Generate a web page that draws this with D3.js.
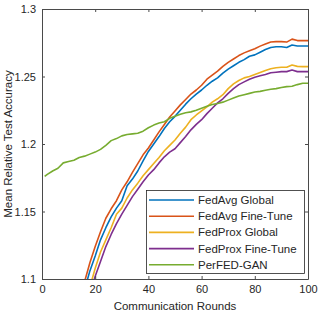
<html>
<head>
<script src="https://d3js.org/d3.v7.min.js"></script>
<style>
  body { margin: 0; background: #fff; }
  text { font-family: "Liberation Sans", Arial, sans-serif; fill: #262626; }
</style>
</head>
<body>
<svg id="chart" width="319" height="313"></svg>
<script>
var rounds = [1, 2, 4, 6, 8, 10, 12, 14, 16, 18, 20, 22, 24, 26, 28, 30, 32, 34, 36, 38, 40,
  42, 44, 46, 48, 50, 52, 54, 56, 58, 60, 62, 64, 66, 68, 70, 72, 74, 76, 78, 80,
  82, 84, 86, 88, 90, 92, 94, 96, 98, 100];

var fedAvgGlobal = [0.985, 0.995, 1.008, 1.022, 1.036, 1.049, 1.062, 1.076, 1.092, 1.106, 1.117,
  1.129, 1.138, 1.146, 1.1525, 1.158, 1.169, 1.174, 1.180, 1.1875, 1.1945,
  1.200, 1.2055, 1.2115, 1.2165, 1.2205, 1.225, 1.2295, 1.2335, 1.237, 1.240,
  1.2435, 1.2465, 1.249, 1.2525, 1.2555, 1.258, 1.2605, 1.2625, 1.265, 1.266,
  1.268, 1.270, 1.2715, 1.272, 1.272, 1.2715, 1.2733, 1.2726, 1.2726, 1.2726];

var fedAvgFine = [0.99, 1.00, 1.015, 1.028, 1.042, 1.055, 1.068, 1.084, 1.098, 1.112, 1.124,
  1.135, 1.145, 1.152, 1.158, 1.166, 1.172, 1.179, 1.1855, 1.192, 1.197,
  1.203, 1.209, 1.2145, 1.220, 1.2245, 1.229, 1.233, 1.237, 1.240, 1.2435,
  1.248, 1.251, 1.254, 1.2575, 1.2605, 1.263, 1.2655, 1.2675, 1.269, 1.2705,
  1.2725, 1.274, 1.2755, 1.2758, 1.2758, 1.2755, 1.2777, 1.2766, 1.2766, 1.2766];

var fedProxGlobal = [0.98, 0.99, 1.003, 1.016, 1.029, 1.042, 1.055, 1.068, 1.080, 1.094, 1.108,
  1.120, 1.129, 1.138, 1.148, 1.1525, 1.160, 1.166, 1.171, 1.1765, 1.181,
  1.1855, 1.190, 1.195, 1.199, 1.203, 1.208, 1.2125, 1.218, 1.2215, 1.2245,
  1.2275, 1.231, 1.2335, 1.2365, 1.241, 1.2445, 1.247, 1.249, 1.250, 1.2515,
  1.253, 1.2545, 1.2558, 1.2565, 1.2568, 1.2568, 1.2585, 1.2575, 1.2573, 1.2573];

var fedProxFine = [0.975, 0.985, 0.998, 1.011, 1.024, 1.037, 1.050, 1.063, 1.076, 1.089, 1.102,
  1.113, 1.124, 1.133, 1.141, 1.148, 1.1545, 1.161, 1.1665, 1.172, 1.177,
  1.181, 1.186, 1.1905, 1.194, 1.1965, 1.201, 1.2055, 1.2105, 1.2145, 1.218,
  1.2225, 1.2265, 1.2305, 1.2335, 1.2375, 1.241, 1.244, 1.246, 1.248, 1.2495,
  1.2505, 1.2515, 1.2528, 1.2532, 1.2536, 1.2536, 1.2548, 1.2536, 1.2536, 1.2536];

var perFedGan = [1.176, 1.1775, 1.180, 1.182, 1.186, 1.187, 1.188, 1.190, 1.191, 1.1925, 1.194,
  1.196, 1.199, 1.2025, 1.204, 1.206, 1.207, 1.2075, 1.208, 1.2095, 1.212,
  1.214, 1.2155, 1.2165, 1.219, 1.2205, 1.222, 1.2232, 1.2238, 1.225, 1.2265,
  1.228, 1.2292, 1.230, 1.231, 1.2325, 1.234, 1.2355, 1.2365, 1.2375, 1.2385,
  1.239, 1.2398, 1.2405, 1.241, 1.2418, 1.2425, 1.2428, 1.244, 1.245, 1.245];

var seriesNames = ["FedAvg Global", "FedAvg Fine-Tune", "FedProx Global", "FedProx Fine-Tune", "PerFED-GAN"];
var seriesValues = [fedAvgGlobal, fedAvgFine, fedProxGlobal, fedProxFine, perFedGan];
var colors = ["#0072BD", "#D95319", "#EDB120", "#7E2F8E", "#77AC30"];
var xTicks = [0, 20, 40, 60, 80, 100];
var yTicks = [1.1, 1.15, 1.2, 1.25, 1.3];

var svg = d3.select("#chart");
var mLeft = 42, mRight = 308, mTop = 9, mBottom = 279;

var x = d3.scaleLinear().domain([0, 100]).range([mLeft, mRight]);
var y = d3.scaleLinear().domain([1.1, 1.3]).range([mBottom, mTop]);

svg.append("clipPath").attr("id", "clip")
  .append("rect").attr("x", mLeft).attr("y", mTop)
  .attr("width", mRight - mLeft).attr("height", mBottom - mTop);

var line = d3.line()
  .x(function(d) { return x(d[0]); })
  .y(function(d) { return y(d[1]); });

var plot = svg.append("g").attr("clip-path", "url(#clip)");
seriesValues.forEach(function(vals, i) {
  plot.append("path")
    .datum(rounds.map(function(r, j) { return [r, vals[j]]; }))
    .attr("fill", "none")
    .attr("stroke", colors[i])
    .attr("stroke-width", 1.6)
    .attr("stroke-linejoin", "round")
    .attr("d", line);
});

// axes, box style with inward ticks
function fmtY(d) { return String(+d.toFixed(2)); }
var axisColor = "#4a4a4a";

var gx = svg.append("g").attr("transform", "translate(0," + mBottom + ")")
  .call(d3.axisBottom(x).tickValues(xTicks).tickSizeInner(-3).tickSizeOuter(0).tickPadding(6));
var gxt = svg.append("g").attr("transform", "translate(0," + mTop + ")")
  .call(d3.axisTop(x).tickValues(xTicks).tickSizeInner(-3).tickSizeOuter(0).tickFormat(""));
var gy = svg.append("g").attr("transform", "translate(" + mLeft + ",0)")
  .call(d3.axisLeft(y).tickValues(yTicks).tickSizeInner(-3).tickSizeOuter(0).tickPadding(6).tickFormat(fmtY));
var gyr = svg.append("g").attr("transform", "translate(" + mRight + ",0)")
  .call(d3.axisRight(y).tickValues(yTicks).tickSizeInner(-3).tickSizeOuter(0).tickFormat(""));

[gx, gxt, gy, gyr].forEach(function(g) {
  g.selectAll("path, line").attr("stroke", axisColor);
  g.selectAll("text").style("font-size", "11px").attr("fill", "#262626")
    .style("font-family", "'Liberation Sans', Arial, sans-serif");
});

svg.append("text")
  .attr("x", (mLeft + mRight) / 2).attr("y", 310)
  .attr("text-anchor", "middle")
  .style("font-size", "11.5px")
  .text("Communication Rounds");

svg.append("text")
  .attr("transform", "translate(12," + (mTop + mBottom) / 2 + ") rotate(-90)")
  .attr("text-anchor", "middle")
  .style("font-size", "11.5px")
  .text("Mean Relative Test Accuracy");

// legend
var leg = svg.append("g");
leg.append("rect")
  .attr("x", 146.5).attr("y", 190.5).attr("width", 158).attr("height", 83)
  .attr("fill", "#fff").attr("stroke", "#262626").attr("stroke-width", 0.8);

seriesNames.forEach(function(name, i) {
  var ly = 200 + i * 16.2;
  leg.append("line")
    .attr("x1", 149).attr("x2", 194).attr("y1", ly).attr("y2", ly)
    .attr("stroke", colors[i]).attr("stroke-width", 1.6);
  leg.append("text")
    .attr("x", 198).attr("y", ly + 4)
    .style("font-size", "11.5px")
    .text(name);
});
</script>
</body>
</html>
